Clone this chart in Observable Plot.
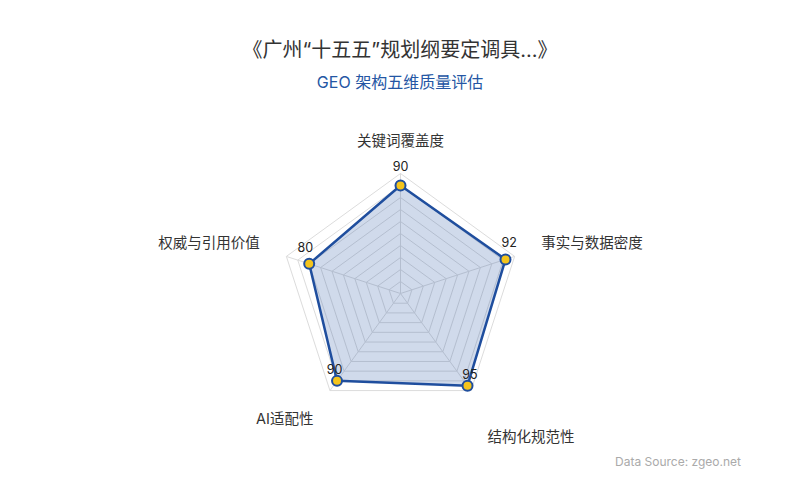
<!DOCTYPE html>
<html>
<head>
<meta charset="utf-8">
<script src="https://cdn.jsdelivr.net/npm/d3@7"></script>
<script src="https://cdn.jsdelivr.net/npm/@observablehq/plot@0.6"></script>
<style>
  html, body { margin: 0; padding: 0; background: #fff; }
  #wrap { position: relative; width: 800px; height: 500px; font-family: Inter, "Noto Sans CJK SC", sans-serif; }
  #title { position: absolute; left: 0; width: 800px; top: 37px; text-align: center; font-size: 20px; line-height: 26px; color: #333; }
  #subtitle { position: absolute; left: 0; width: 800px; top: 71px; text-align: center; font-size: 16px; line-height: 22px; color: #2456a4; }
  #caption { position: absolute; right: 59px; top: 454px; font-size: 12px; line-height: 16px; color: #aaa; }
  #chart svg { display: block; }
</style>
</head>
<body>
<div id="wrap">
  <div id="chart"></div>
  <div id="title">《广州“十五五”规划纲要定调具...》</div>
  <div id="subtitle">GEO 架构五维质量评估</div>
  <div id="caption">Data Source: zgeo.net</div>
</div>
<script>
const categories = ["关键词覆盖度", "事实与数据密度", "结构化规范性", "AI适配性", "权威与引用价值"];
const values = [90, 92, 95, 90, 80];
const maxValue = 100;
const ringLevels = [10, 20, 30, 40, 50, 60, 70, 80, 90, 100];

// layout
const W = 800, H = 500, cx = 400, cy = 293, R = 120;
const k = maxValue / R; // value units per pixel
const n = categories.length;
const ang = i => (i * 2 * Math.PI) / n;
const px = (r, i) => r * Math.sin(ang(i));
const py = (r, i) => r * Math.cos(ang(i));

const rings = ringLevels.flatMap(level =>
  d3.range(n + 1).map(j => ({level, x: px(level, j % n), y: py(level, j % n)}))
);
const spokes = categories.map((c, i) => ({x: px(maxValue, i), y: py(maxValue, i)}));
const series = categories.map((c, i) => ({
  name: c, value: values[i], i,
  x: px(values[i], i), y: py(values[i], i)
}));
// value label offsets (pixels) nudged along axis direction
const valueLabelX = d => d.x + 4 * Math.sin(ang(d.i)) * k;
const valueLabelY = d => d.y + (14.5 + 4.5 * Math.cos(ang(d.i))) * k;

const labelR = 148 * k;
const axisLabels = categories.map((c, i) => {
  const s = Math.sin(ang(i)), co = Math.cos(ang(i));
  return {
    name: c,
    x: px(labelR, i), y: py(labelR, i),
    anchor: Math.abs(s) < 0.01 ? "middle" : s > 0 ? "start" : "end",
    line: co > 0 ? "bottom" : "top",
    shift: (s > 0 && co < 0) ? 18 : 0
  };
});
const groups = d3.groups(axisLabels, d => `${d.anchor}|${d.line}|${d.shift}`);
const labelMarks = groups.map(([key, rows]) => {
  const [anchor, line, shift] = key.split("|");
  return Plot.text(rows, {x: "x", y: "y", text: "name", textAnchor: anchor, lineAnchor: line, dy: +shift, fontSize: 14.5, fill: "#333"});
});

const chart = Plot.plot({
  width: W, height: H,
  margin: 0,
  x: {domain: [-cx * k, (W - cx) * k], axis: null},
  y: {domain: [-(H - cy) * k, cy * k], axis: null},
  style: {fontFamily: 'Inter, "Noto Sans CJK SC", sans-serif', background: "transparent"},
  marks: [
    Plot.line(rings, {x: "x", y: "y", z: "level", stroke: "#dcdcdc", strokeWidth: 1}),
    Plot.link(spokes, {x1: 0, y1: 0, x2: "x", y2: "y", stroke: "#dcdcdc", strokeWidth: 1}),
    Plot.line(series, {x: "x", y: "y", curve: "linear-closed", fill: "#2a55a5", fillOpacity: 0.22, stroke: "#1f4e9e", strokeWidth: 2.5}),
    Plot.dot(series, {x: "x", y: "y", r: 5, fill: "#f4c41c", stroke: "#1f4e9e", strokeWidth: 2}),
    Plot.text(series, {x: valueLabelX, y: valueLabelY, text: d => String(d.value), fontSize: 12.5, fill: "#222"}),
    ...labelMarks
  ]
});
document.getElementById("chart").appendChild(chart);
</script>
</body>
</html>
